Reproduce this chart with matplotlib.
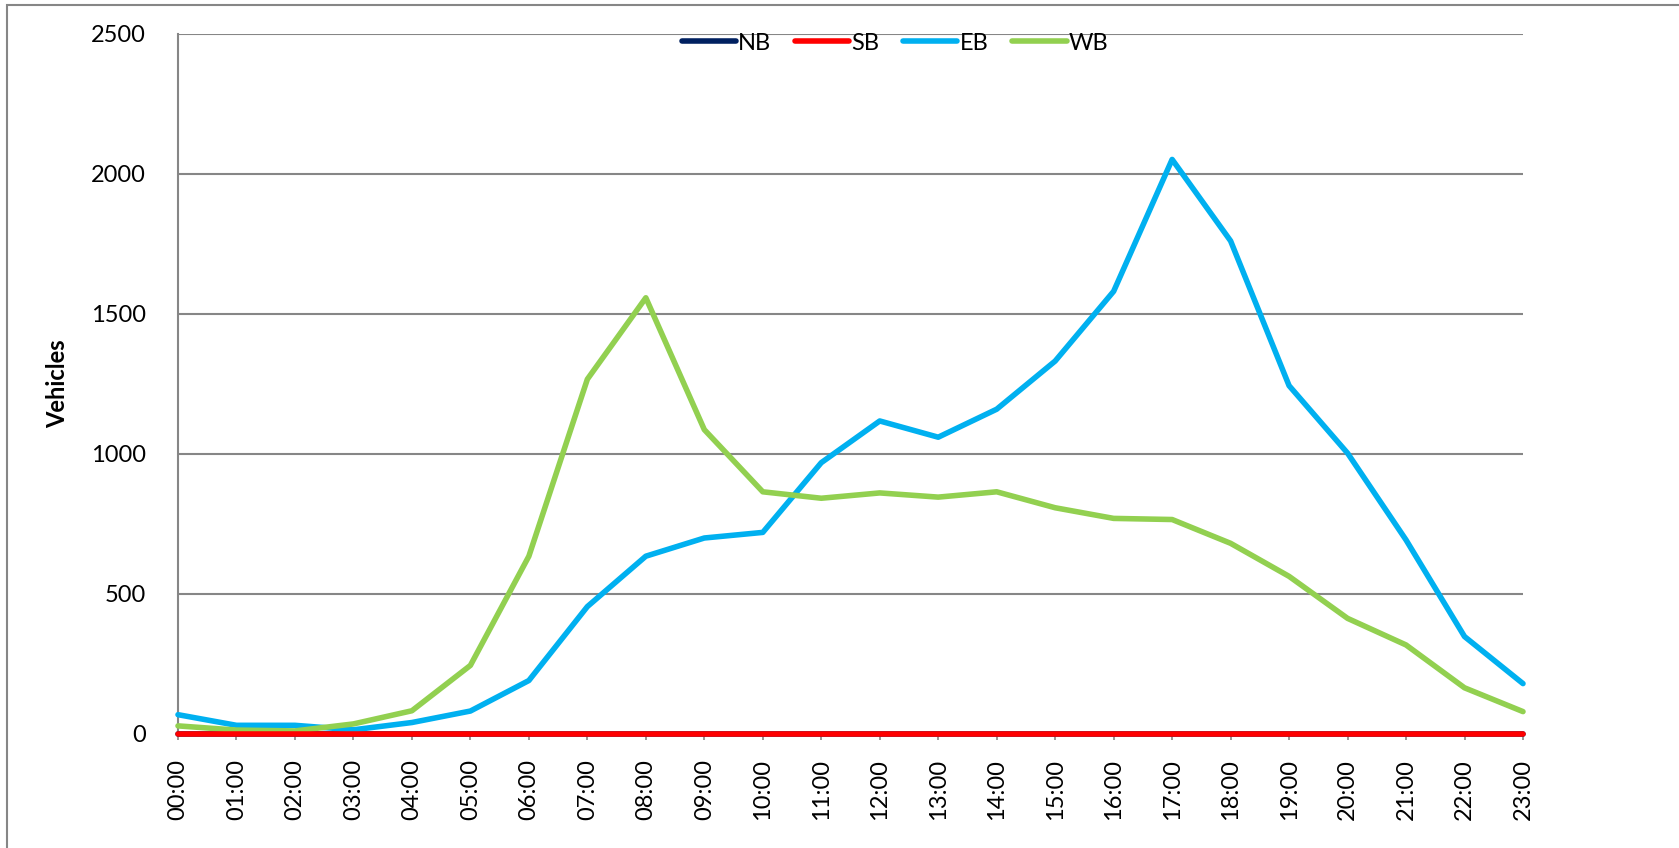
import matplotlib.pyplot as plt
from matplotlib.patches import Rectangle

hours = [f"{h:02d}:00" for h in range(24)]

nb = [0] * 24
sb = [0] * 24
eb = [69, 31, 31, 15, 41, 82, 191, 455, 635, 700, 720, 969,
      1118, 1060, 1160, 1332, 1581, 2052, 1761, 1244, 1003, 693, 348, 180]
wb = [29, 14, 11, 36, 83, 245, 635, 1267, 1558, 1087, 865, 842,
      861, 846, 865, 808, 770, 766, 681, 563, 413, 318, 165, 80]

plt.rcParams['font.family'] = ['Lato', 'DejaVu Sans']

fig = plt.figure(figsize=(16.79, 8.48), dpi=100)
ax = fig.add_axes([178 / 1679, 1 - 734 / 848, (1523 - 178) / 1679, 700 / 848])

x = list(range(24))
lw = 4
ax.plot(x, nb, color='#002060', lw=lw, solid_capstyle='round', label='NB', zorder=3, clip_on=False)
ax.plot(x, sb, color='#ff0000', lw=lw, solid_capstyle='round', label='SB', zorder=4, clip_on=False)
ax.plot(x, eb, color='#00b0f0', lw=lw, solid_capstyle='round', label='EB', zorder=3, clip_on=False)
ax.plot(x, wb, color='#92d050', lw=lw, solid_capstyle='round', label='WB', zorder=3, clip_on=False)

ax.set_xlim(0, 23)
ax.set_ylim(0, 2500)
ax.set_yticks(range(0, 2501, 500))
ax.set_xticks(x)
ax.set_xticklabels(hours, rotation=90)
ax.grid(axis='y', color='#868686', lw=1.5)
ax.set_axisbelow(True)

for s in ['top', 'right']:
    ax.spines[s].set_visible(False)
ax.spines['left'].set_color('#868686')
ax.spines['left'].set_linewidth(1.5)
ax.spines['bottom'].set_color('#868686')
ax.spines['bottom'].set_linewidth(1.5)

ax.tick_params(axis='y', length=0, pad=23, labelsize=17)
ax.tick_params(axis='x', length=4, width=1.2, color='#868686', pad=14, labelsize=17)
ax.set_ylabel('Vehicles', fontsize=17, fontweight='bold', labelpad=16)

ax.legend(loc='center', bbox_to_anchor=(895 / 1679, 1 - 43 / 848),
          bbox_transform=fig.transFigure, ncol=4, frameon=False, fontsize=17,
          handlelength=2.3, handletextpad=0.1, columnspacing=1.0,
          borderaxespad=0)

# outer chart frame (right and bottom edges fall outside the image)
fig.patches.append(Rectangle((7 / 1679, -0.1), 1.2, 1.1 - 5 / 848,
                             transform=fig.transFigure, fill=False,
                             edgecolor='#868686', lw=1.5))

fig.savefig('out.png', dpi=100)
